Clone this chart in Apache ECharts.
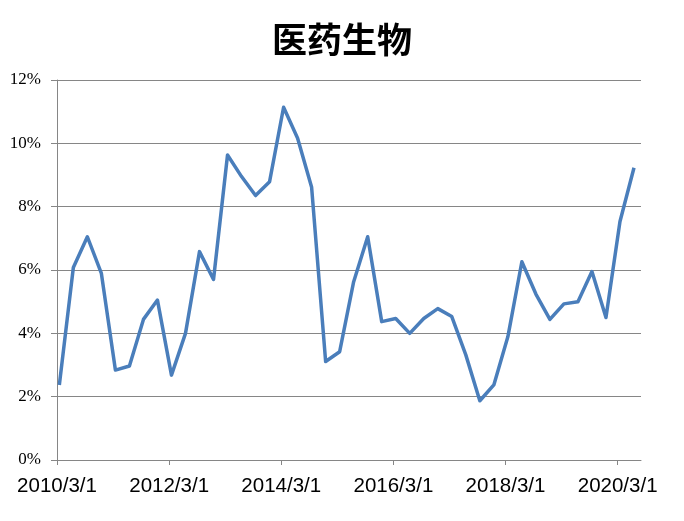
<!DOCTYPE html>
<html><head><meta charset="utf-8">
<script src="https://cdn.jsdelivr.net/npm/echarts@6/dist/echarts.min.js"></script>
<style>html,body{margin:0;padding:0;background:#fff}#c{width:684px;height:521px}</style>
</head><body><div id="c"></div>
<script>
const title = '医药生物';
// quarterly observations, 2010Q1 .. 2020Q2
const quarters = [
 '2010Q1','2010Q2','2010Q3','2010Q4','2011Q1','2011Q2','2011Q3','2011Q4',
 '2012Q1','2012Q2','2012Q3','2012Q4','2013Q1','2013Q2','2013Q3','2013Q4',
 '2014Q1','2014Q2','2014Q3','2014Q4','2015Q1','2015Q2','2015Q3','2015Q4',
 '2016Q1','2016Q2','2016Q3','2016Q4','2017Q1','2017Q2','2017Q3','2017Q4',
 '2018Q1','2018Q2','2018Q3','2018Q4','2019Q1','2019Q2','2019Q3','2019Q4',
 '2020Q1','2020Q2'];
const values = [
 2.37,6.08,7.05,5.89,2.84,2.97,4.44,5.05,
 2.68,4.00,6.58,5.70,9.63,8.95,8.35,8.79,
 11.14,10.16,8.61,3.11,3.42,5.63,7.05,4.37,
 4.47,4.00,4.47,4.78,4.53,3.32,1.87,2.37,
 3.89,6.26,5.24,4.44,4.93,5.00,5.95,4.50,
 7.53,9.23];
const tickLabels = ['2010/3/1','2012/3/1','2014/3/1','2016/3/1','2018/3/1','2020/3/1'];

// x in months since 2010/3/1
function qToMonth(q){
  const y = +q.slice(0,4), n = +q.slice(5);
  return (y-2010)*12 + (n-1)*3 + 0.5;
}
const seriesData = quarters.map((q,i)=>[qToMonth(q), values[i]/100]);
const tickMonths = tickLabels.map(s=>{const p=s.split('/');return (+p[0]-2010)*12+(+p[1]-3);});

const chart = echarts.init(document.getElementById('c'));
chart.setOption({
  animation:false,
  backgroundColor:'#fff',
  title:{text:title,left:'center',top:17,textStyle:{fontFamily:'Noto Sans CJK SC',fontSize:35,fontWeight:'bold',color:'#000'}},
  grid:{left:57,right:43,top:80,bottom:61,containLabel:false},
  xAxis:{type:'value',min:0,max:125,
    axisLine:{show:true,lineStyle:{color:'#868686',width:1}},
    axisTick:{show:true,length:5,lineStyle:{color:'#868686'},customValues:tickMonths},
    axisLabel:{customValues:tickMonths,margin:16,color:'#000',fontFamily:'Liberation Sans Narrow, Liberation Sans',fontSize:20.5,
      formatter:v=>{const i=tickMonths.indexOf(v);return i>=0?tickLabels[i]:'';}},
    splitLine:{show:false}},
  yAxis:{type:'value',min:0,max:0.12,interval:0.02,
    axisLine:{show:true,lineStyle:{color:'#868686',width:1}},
    axisTick:{show:true,length:6,lineStyle:{color:'#868686'}},
    axisLabel:{margin:16,color:'#000',fontFamily:'Liberation Serif',fontSize:17,
      formatter:v=>Math.round(v*100)+'%'},
    splitLine:{show:true,lineStyle:{color:'#868686',width:1}}},
  series:[{type:'line',data:seriesData,symbol:'none',
    lineStyle:{color:'#4A7EBB',width:3.5,join:'round'}}]
});
</script></body></html>
